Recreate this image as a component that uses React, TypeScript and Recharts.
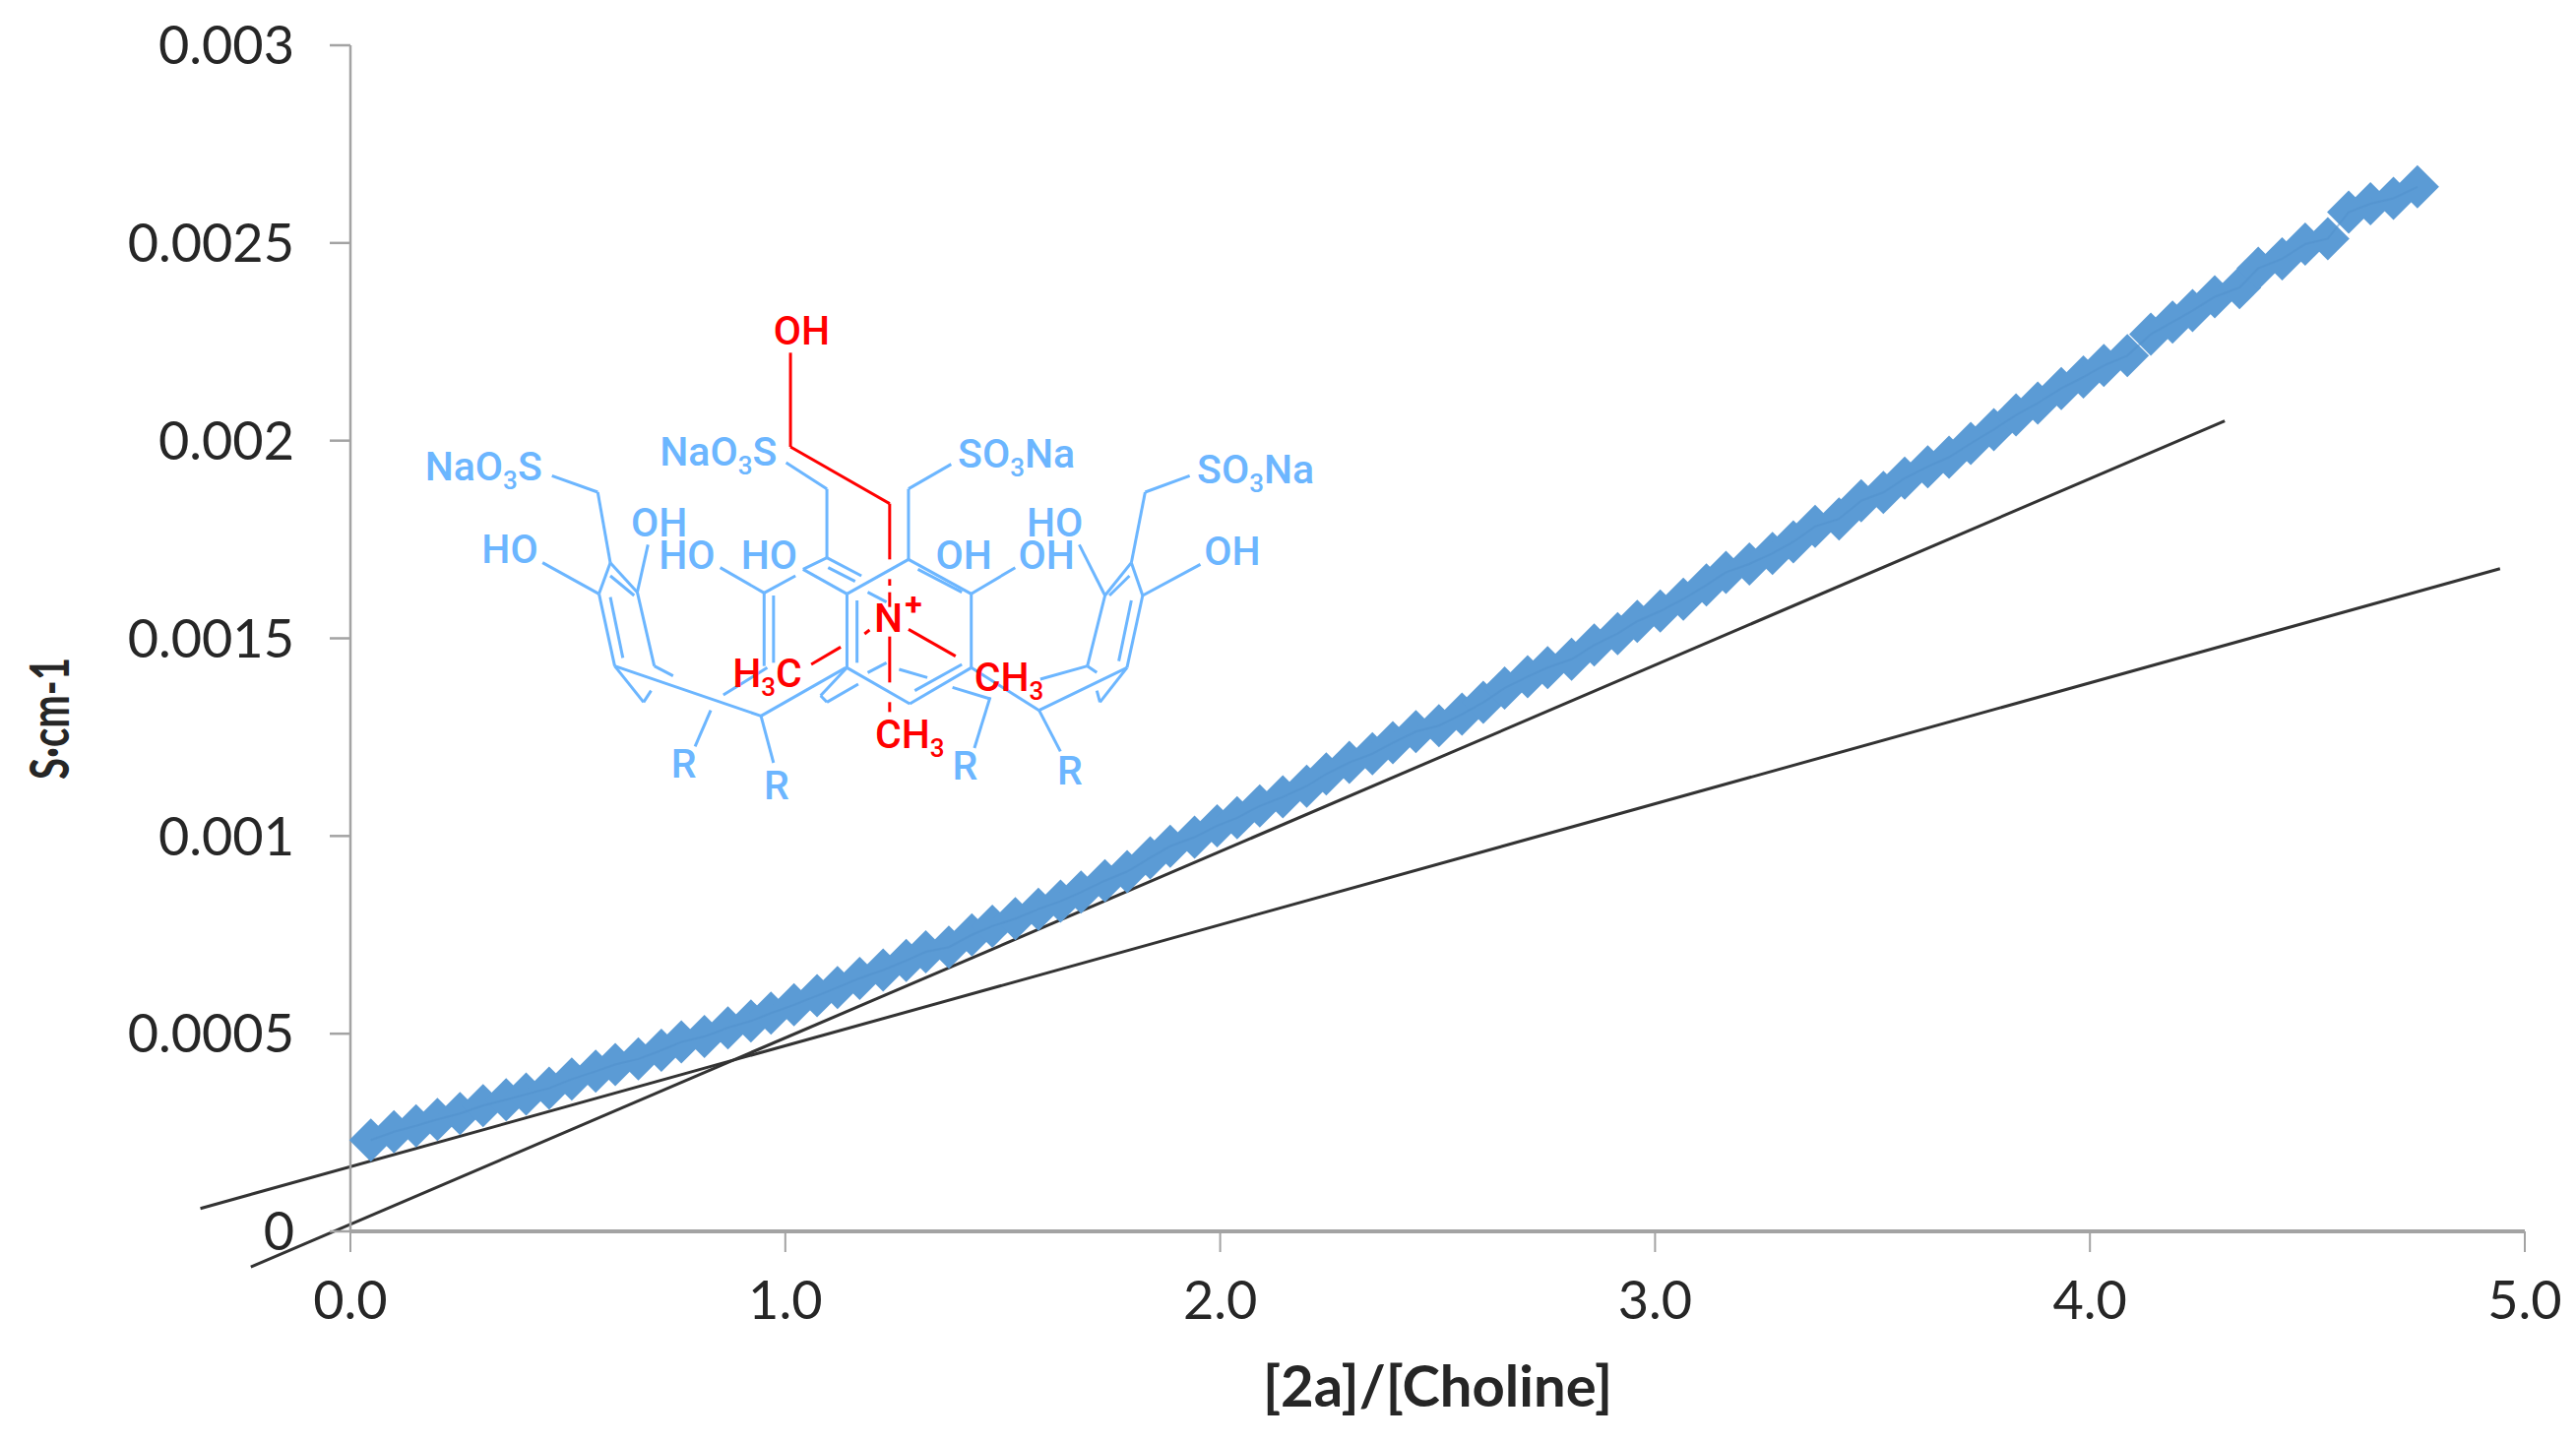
import React from 'react';
import { ScatterChart, Scatter, XAxis, YAxis, ReferenceLine } from 'recharts';

const ratio = [
  0.047, 0.1, 0.151, 0.2, 0.252, 0.305, 0.358, 0.404, 0.457, 0.509, 0.564, 0.609, 0.662, 0.715, 0.761, 0.814, 0.868, 0.921, 0.967, 1.02,
  1.073, 1.12, 1.171, 1.225, 1.278, 1.323, 1.376, 1.429, 1.476, 1.529, 1.582, 1.633, 1.68, 1.735, 1.786, 1.839, 1.885, 1.941, 1.993,
  2.039, 2.091, 2.144, 2.199, 2.244, 2.297, 2.35, 2.397, 2.45, 2.503, 2.556, 2.605, 2.654, 2.707, 2.753, 2.808, 2.86, 2.914, 2.959, 3.012,
  3.065, 3.118, 3.163, 3.217, 3.27, 3.318, 3.368, 3.423, 3.474, 3.525, 3.574, 3.627, 3.676, 3.726, 3.779, 3.83, 3.88, 3.934, 3.985,
  4.032, 4.086, 4.14, 4.19, 4.236, 4.287, 4.344, 4.387, 4.442, 4.495, 4.547, 4.595, 4.645, 4.698, 4.753,
];
const conductivity = [
  0.000231, 0.000252, 0.000267, 0.000283, 0.000298, 0.000318, 0.000333, 0.000347, 0.000362, 0.000385, 0.000405, 0.000422, 0.000436, 0.000458, 0.000479, 0.000493, 0.000515, 0.000532, 0.000552, 0.000573,
  0.000596, 0.000617, 0.00064, 0.000661, 0.000685, 0.000707, 0.000719, 0.00075, 0.000772, 0.000791, 0.000815, 0.000835, 0.000858, 0.000887, 0.00091, 0.000945, 0.000974, 0.000997, 0.001026,
  0.001046, 0.001076, 0.001099, 0.001126, 0.001157, 0.001186, 0.001208, 0.001236, 0.001264, 0.001279, 0.001308, 0.001338, 0.001374, 0.001403, 0.001426, 0.001447, 0.001483, 0.001512, 0.001543, 0.001569,
  0.001599, 0.001635, 0.001667, 0.001688, 0.001715, 0.001744, 0.001783, 0.001802, 0.001848, 0.001869, 0.001905, 0.001934, 0.001958, 0.001993, 0.002028, 0.002065, 0.002095, 0.002132, 0.002161,
  0.00219, 0.002215, 0.002269, 0.0023, 0.002329, 0.002364, 0.002387, 0.002436, 0.00246, 0.002497, 0.002511, 0.002578, 0.002599, 0.002613, 0.002642,
];
const trendShallow = [{ x: -0.345, y: 0.000058 }, { x: 4.943, y: 0.001676 }];
const trendSteep = [{ x: -0.229, y: -0.00009 }, { x: 4.31, y: 0.00205 }];
const xTicks = [0, 1, 2, 3, 4, 5];
const yTicks = [0, 0.0005, 0.001, 0.0015, 0.002, 0.0025, 0.003];

const points = ratio.map((x, i) => ({ x, y: conductivity[i] }));

const FONT = 'Lato, sans-serif';
const BLUE = '#5B9BD5';
const GREY = '#A3A3A3';
const TEXT = '#262626';
const MOL_BLUE = '#6CB6FF';
const MOL_RED = '#FF0000';

const Diamond = (p: any) => {
  const r = 22;
  return <path d={`M${p.cx} ${p.cy - r}L${p.cx + r} ${p.cy}L${p.cx} ${p.cy + r}L${p.cx - r} ${p.cy}Z`} fill={BLUE} />;
};

const YTitle = () => (
  <text
    x={70}
    y={730}
    transform="rotate(-90 70 730)"
    textAnchor="middle"
    textLength={124}
    lengthAdjust="spacingAndGlyphs"
    fontFamily={FONT}
    fontSize={55}
    fontWeight={700}
    fill={TEXT}
  >
    S·cm-1
  </text>
);

// Inset structural formula (decoration, not data)
const molBlue = [
  [252,550,325,600],[325,600,345,815],[345,815,327,910],[345,815,388,905],[345,855,383,915],[327,910,352,1130],[345,920,365,1105],
  [388,905,415,1130],[237,815,327,910],[405,760,388,905],[352,1130,398,1240],[398,1240,410,1205],[415,1130,445,1160],[352,1130,585,1282],
  [585,1282,720,1135],[585,1282,605,1425],[505,1265,480,1375],[525,1218,595,1135],[520,830,590,907],[590,907,640,855],[590,907,590,1130],
  [605,915,605,1120],[625,510,690,590],[690,590,690,800],[690,800,745,855],[690,800,652,835],[652,835,722,910],[692,830,735,872],
  [722,910,820,805],[820,805,920,910],[835,835,905,905],[920,910,920,1135],[920,1135,822,1245],[905,1125,830,1205],[822,1245,722,1135],
  [722,1135,722,910],[738,930,738,1120],[755,905,785,935],[755,1150,785,1120],[805,1140,850,1165],[888,515,820,590],[820,590,820,805],
  [920,910,990,830],[1268,550,1197,600],[1197,600,1175,815],[1175,815,1133,915],[1175,815,1193,915],[1172,855,1140,915],[1133,915,1105,1130],
  [1193,915,1168,1135],[1175,930,1155,1115],[1193,915,1285,820],[1092,760,1133,915],[1168,1135,1028,1265],[1168,1135,1125,1240],[1125,1240,1120,1205],
  [1105,1130,1030,1170],[1028,1265,920,1135],[1028,1265,1062,1390],[950,1225,925,1380],[890,1195,950,1230],[1105,1130,1120,1150],
  [722,1135,680,1220],[680,1220,690,1240],[690,1240,740,1185],
];
const molRed = [
  [632,175,632,462],[632,462,790,635],[790,635,790,805],[790,865,790,885],[790,905,790,950],[790,1040,790,1180],[790,1240,790,1270],
  [820,1018,895,1100],[750,1032,758,1020],[665,1125,712,1072],
];
const molLabels: [string, number, number, string][] = [
  ['NaO3S',143,520,MOL_BLUE],['HO',185,772,MOL_BLUE],['OH',423,690,MOL_BLUE],['HO',467,790,MOL_BLUE],['HO',598,790,MOL_BLUE],
  ['NaO3S',517,475,MOL_BLUE],['SO3Na',992,480,MOL_BLUE],['OH',908,790,MOL_BLUE],['OH',1040,790,MOL_BLUE],['HO',1053,690,MOL_BLUE],
  ['OH',1336,778,MOL_BLUE],['SO3Na',1373,527,MOL_BLUE],['R',462,1425,MOL_BLUE],['R',610,1490,MOL_BLUE],['R',910,1430,MOL_BLUE],['R',1077,1445,MOL_BLUE],
  ['OH',650,105,MOL_RED],['N',788,980,MOL_RED],['H3C',595,1150,MOL_RED],['CH3',980,1160,MOL_RED],['CH3',822,1335,MOL_RED],
];
const mx = (v: number) => 400 + v / 1.568;
const my = (v: number) => 300 + v / 3;

const MolText = ({ s, x, y, fill }: { s: string; x: number; y: number; fill: string }) => {
  const parts = s.split(/(3)/).filter(Boolean);
  let sub = false;
  return (
    <text x={mx(x)} y={my(y) + 15} textAnchor="middle" fontFamily="Roboto, sans-serif" fontWeight={500} fontSize={41} fill={fill}>
      {parts.map((p, i) => {
        const isSub = p === '3';
        const dy = isSub ? 9 : sub ? -9 : 0;
        sub = isSub;
        return <tspan key={i} dy={dy} fontSize={isSub ? 26 : 41}>{p}</tspan>;
      })}
    </text>
  );
};

const Molecule = () => (
  <svg width={2617} height={1466} style={{ position: 'absolute', left: 0, top: 0, pointerEvents: 'none' }}>
    {molBlue.map((l, i) => (
      <line key={i} x1={mx(l[0])} y1={my(l[1])} x2={mx(l[2])} y2={my(l[3])} stroke={MOL_BLUE} strokeWidth={3} />
    ))}
    {molRed.map((l, i) => (
      <line key={i} x1={mx(l[0])} y1={my(l[1])} x2={mx(l[2])} y2={my(l[3])} stroke={MOL_RED} strokeWidth={3} />
    ))}
    {molLabels.map((m, i) => <MolText key={i} s={m[0]} x={m[1]} y={m[2]} fill={m[3]} />)}
    <text x={mx(828)} y={my(935) + 13} textAnchor="middle" fontFamily="Roboto, sans-serif" fontWeight={700} fontSize={32} fill={MOL_RED}>+</text>
    <YTitle />
  </svg>
);

export default function App() {
  const tickStyle = { fontFamily: FONT, fontSize: 54, fill: TEXT };
  return (
    <div style={{ position: 'absolute', left: 0, top: 0, width: 2617, height: 1466, background: '#fff', overflow: 'hidden' }}>
      <ScatterChart width={2617} height={1466} margin={{ top: 46, right: 52, bottom: 0, left: 0 }}>
        <XAxis
          type="number"
          dataKey="x"
          domain={[0, 5]}
          ticks={xTicks}
          interval={0}
          height={215}
          tickSize={21}
          tickMargin={30}
          tickFormatter={(v: number) => v.toFixed(1)}
          tick={tickStyle}
          axisLine={{ stroke: GREY, strokeWidth: 4 }}
          tickLine={{ stroke: GREY, strokeWidth: 2 }}
          label={{ value: '[2a]/[Choline]', position: 'insideTop', offset: 137, style: { fontFamily: FONT, fontSize: 58, fontWeight: 700, fill: TEXT } }}
        />
        <YAxis
          type="number"
          dataKey="y"
          domain={[0, 0.003]}
          ticks={yTicks}
          interval={0}
          width={356}
          tickSize={21}
          tickMargin={36}
          tick={tickStyle}
          axisLine={{ stroke: GREY, strokeWidth: 2.5 }}
          tickLine={{ stroke: GREY, strokeWidth: 2.5 }}
        />
        <Scatter data={points} shape={Diamond} isAnimationActive={false} />
        <Scatter data={points} line={{ stroke: '#5090CC', strokeWidth: 2, strokeOpacity: 0.5 }} shape={() => null} isAnimationActive={false} />
        <ReferenceLine segment={trendShallow} ifOverflow="visible" stroke="#333333" strokeWidth={3} />
        <ReferenceLine segment={trendSteep} ifOverflow="visible" stroke="#333333" strokeWidth={3} />
      </ScatterChart>
      <Molecule />
    </div>
  );
}
